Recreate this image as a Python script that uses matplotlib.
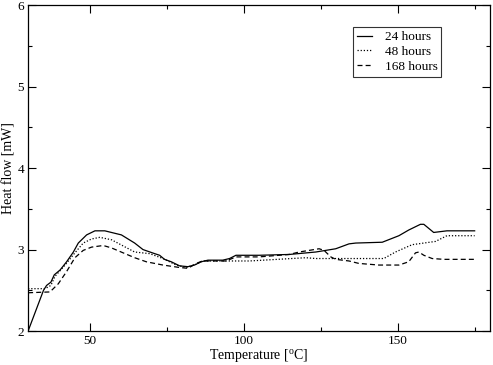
import matplotlib
matplotlib.use('Agg')
import matplotlib.pyplot as plt
from matplotlib.ticker import MultipleLocator

plt.rcParams['font.family'] = ['Liberation Serif', 'DejaVu Serif']
plt.rcParams['mathtext.fontset'] = 'custom'
plt.rcParams['mathtext.rm'] = 'Liberation Serif'

# 24 hours
t24 = [30, 35, 36, 37.4, 38.5, 40.4, 42.5, 44.7, 46.3, 49, 51.7, 54.9, 60.3, 64.6, 67.3,
       71.1, 72.7, 74.3, 76.5, 79.2, 81.9, 84, 86.2, 88.4, 93.2, 95.4, 97.5, 105, 114.8,
       123.4, 129.9, 134.2, 136.4, 145, 150.4, 153.6, 157.4, 158.5, 161.7, 166, 175]
h24 = [2.0, 2.50, 2.56, 2.60, 2.69, 2.75, 2.85, 2.97, 3.08, 3.18, 3.23, 3.23, 3.18, 3.08, 3.00,
       2.95, 2.93, 2.88, 2.85, 2.80, 2.79, 2.81, 2.85, 2.87, 2.87, 2.89, 2.93, 2.93, 2.94,
       2.97, 3.01, 3.07, 3.08, 3.09, 3.17, 3.24, 3.31, 3.31, 3.21, 3.23, 3.23]

# 48 hours
t48 = [30, 35.5, 37.4, 38.7, 42, 45.2, 47.9, 50.6, 53.3, 57.1, 64.6, 69.5, 73.8, 78.1,
       81.4, 84.6, 86.6, 94.3, 101.8, 120.2, 123.4, 145.5, 149.3, 154.7, 162.3, 166, 175]
h48 = [2.52, 2.52, 2.56, 2.67, 2.81, 2.96, 3.08, 3.13, 3.15, 3.12, 2.97, 2.95, 2.89, 2.81,
       2.78, 2.82, 2.86, 2.86, 2.86, 2.90, 2.89, 2.89, 2.97, 3.06, 3.10, 3.17, 3.17]

# 168 hours
t168 = [30, 37.1, 39.8, 42.5, 45.2, 47.9, 50.6, 54.4, 57.1, 64.6, 68.4, 73.8, 79.2, 81.9,
        84.6, 86.6, 94.3, 97.5, 105, 114.8, 118, 124.5, 126.1, 128.3, 129.9, 134.2, 137.4,
        143.9, 150.4, 153.6, 155.8, 156.9, 158.5, 161.2, 165, 175]
h168 = [2.47, 2.48, 2.58, 2.73, 2.90, 2.99, 3.03, 3.05, 3.02, 2.90, 2.85, 2.81, 2.78, 2.77,
        2.83, 2.86, 2.86, 2.91, 2.91, 2.94, 2.97, 3.01, 2.99, 2.91, 2.88, 2.86, 2.83,
        2.81, 2.81, 2.85, 2.96, 2.97, 2.93, 2.89, 2.88, 2.88]

fig = plt.figure(figsize=(4.93, 3.65), dpi=100)
ax = fig.add_axes([0.057, 0.093, 0.937, 0.893])

ax.plot(t24, h24, color='black', linestyle='-', linewidth=0.9, label='24 hours')
ax.plot(t48, h48, color='black', linestyle=(0, (1, 1.5)), linewidth=0.9, label='48 hours')
ax.plot(t168, h168, color='black', linestyle=(0, (4, 2.5)), linewidth=0.9, label='168 hours')

ax.set_xlim(30, 180)
ax.set_ylim(2, 6)
ax.xaxis.set_major_locator(MultipleLocator(50))
ax.xaxis.set_minor_locator(MultipleLocator(25))
ax.yaxis.set_major_locator(MultipleLocator(1))
ax.yaxis.set_minor_locator(MultipleLocator(0.5))
ax.tick_params(which='both', direction='in', top=True, right=True, labelsize=9.5, width=0.8)
ax.tick_params(which='major', length=6, pad=3)
ax.tick_params(which='minor', length=3)
for s in ax.spines.values():
    s.set_linewidth(0.9)

ax.set_xlabel(r'Temperature [$^{\mathrm{o}}$C]', fontsize=10, labelpad=0)
ax.set_ylabel('Heat flow [mW]', fontsize=10, labelpad=1)

leg = ax.legend(loc='upper left', bbox_to_anchor=(0.703, 0.933), fontsize=9.5,
                frameon=True, fancybox=False, edgecolor='black', handlelength=1.15,
                borderpad=0.3, labelspacing=0.2, handletextpad=0.95, borderaxespad=0)
leg.get_frame().set_linewidth(0.8)

fig.savefig('out.png', dpi=100)
